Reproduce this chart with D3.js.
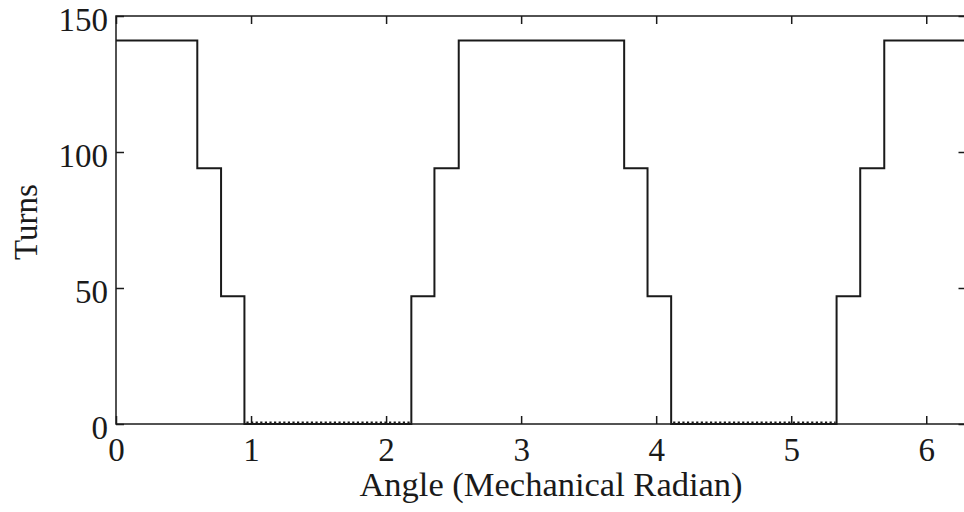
<!DOCTYPE html>
<html>
<head>
<meta charset="utf-8">
<script src="https://cdn.jsdelivr.net/npm/d3@7"></script>
<style>
  html, body { margin: 0; padding: 0; background: #ffffff; }
  svg { display: block; }
  text { font-family: "Liberation Serif", "Times New Roman", serif; fill: #1a1a1a; }
</style>
</head>
<body>
<svg id="chart" width="964" height="512"></svg>
<script>
// ---- data ----
const stepAngles = [0, 0.602, 0.778, 0.951, 2.187, 2.358, 2.538, 3.763, 3.936, 4.111, 5.336, 5.511, 5.689, 6.2832];
const stepTurns  = [141, 94, 47, 0, 47, 94, 141, 94, 47, 0, 47, 94, 141, 141];
const xTicks = [0, 1, 2, 3, 4, 5, 6];
const yTicks = [0, 50, 100, 150];
const xLabel = "Angle (Mechanical Radian)";
const yLabel = "Turns";

// ---- layout ----
const svg = d3.select("#chart");
const mLeft = 116, mRight = 964.5, mTop = 16, mBottom = 424;
const frameRight = 966.5;
const x = d3.scaleLinear().domain([0, 6.2832]).range([mLeft, mRight]);
const y = d3.scaleLinear().domain([0, 150]).range([mBottom, mTop]);
const ink = "#1a1a1a";
const tickLen = 8;

const pts = stepAngles.map((a, i) => ({a, t: stepTurns[i]}));

// frame
svg.append("rect")
  .attr("x", mLeft).attr("y", mTop)
  .attr("width", frameRight - mLeft).attr("height", mBottom - mTop)
  .attr("fill", "none").attr("stroke", ink).attr("stroke-width", 1.5);

// axes (ticks pointing inward)
const xAxisB = d3.axisBottom(x).tickValues(xTicks).tickSize(-tickLen).tickPadding(14).tickFormat(d3.format("d"));
const xAxisT = d3.axisTop(x).tickValues(xTicks).tickSize(-tickLen).tickFormat("");
const yAxisL = d3.axisLeft(y).tickValues(yTicks).tickSize(-tickLen).tickPadding(8).tickFormat(d3.format("d"));
const yAxisR = d3.axisRight(y).tickValues(yTicks).tickSize(-tickLen).tickFormat("");

function style(g) {
  g.select(".domain").remove();
  g.selectAll(".tick line").attr("stroke", ink).attr("stroke-width", 1.5);
  g.selectAll(".tick text").attr("font-size", 33).attr("fill", ink)
    .style("font-family", "'Liberation Serif', serif");
}
svg.append("g").attr("transform", `translate(0,${mBottom})`).call(xAxisB).call(style);
svg.append("g").attr("transform", `translate(0,${mTop})`).call(xAxisT).call(style);
svg.append("g").attr("transform", `translate(${mLeft},0)`).call(yAxisL).call(style)
  .selectAll(".tick text").attr("dy", "0.44em");
svg.append("g").attr("transform", `translate(${frameRight},0)`).call(yAxisR).call(style);

// step line
const line = d3.line().x(d => x(d.a)).y(d => y(d.t)).curve(d3.curveStepAfter);
svg.append("path").datum(pts)
  .attr("d", line)
  .attr("fill", "none").attr("stroke", ink).attr("stroke-width", 2);

// slight ripple texture on the zero-turn stretches
const zeroSegs = [];
for (let i = 0; i < pts.length - 1; i++) {
  if (pts[i].t === 0) zeroSegs.push([pts[i].a, pts[i + 1].a]);
}
svg.append("g").selectAll("line").data(zeroSegs).join("line")
  .attr("x1", d => x(d[0]) + 2).attr("x2", d => x(d[1]) - 1)
  .attr("y1", mBottom - 1.8).attr("y2", mBottom - 1.8)
  .attr("stroke", ink).attr("stroke-width", 1.6)
  .attr("stroke-dasharray", "2.2,2.4");

// labels
svg.append("text")
  .attr("x", 551).attr("y", 496)
  .attr("text-anchor", "middle").attr("font-size", 34.5)
  .text(xLabel);
svg.append("text")
  .attr("transform", `translate(37,${(mTop + mBottom) / 2 + 2}) rotate(-90)`)
  .attr("text-anchor", "middle").attr("font-size", 33)
  .text(yLabel);
</script>
</body>
</html>
